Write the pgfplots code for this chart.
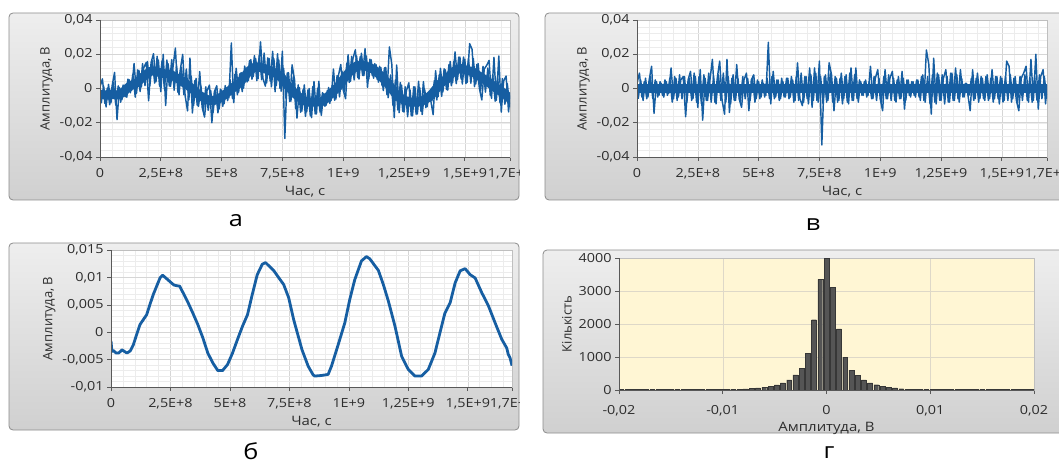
\documentclass[border=0pt]{standalone}
\usepackage{pgfplots}
\pgfplotsset{compat=1.18}
\usepackage{fontspec}
\setmainfont[FakeStretch=1.15]{Open Sans}
\newfontfamily\rotfont{Open Sans}
\definecolor{sig}{RGB}{22,94,162}
\definecolor{frametop}{RGB}{238,238,238}
\definecolor{framebot}{RGB}{208,208,208}
\definecolor{frameedge}{RGB}{140,140,140}
\definecolor{gmaj}{RGB}{214,214,214}
\definecolor{gmin}{RGB}{236,236,236}
\definecolor{histbg}{RGB}{255,246,212}
\definecolor{histbar}{RGB}{85,85,85}
\definecolor{histedge}{RGB}{55,55,55}
\definecolor{txt}{RGB}{45,45,45}
\newcommand\tfont{\fontsize{12.5}{13}\selectfont}
\newcommand\lfont{\fontsize{13}{14}\selectfont}
\pgfplotsset{
  panel/.style={
    scale only axis,
    axis background/.style={fill=white},
    tick align=outside, xtick pos=left, ytick pos=left,
    major tick length=4pt, minor tick length=0pt,
    tick style={draw=black!65, line width=0.6pt},
    axis line style={draw=black!25, line width=0.6pt},
    major grid style={draw=gmaj, line width=0.5pt},
    minor grid style={draw=gmin, line width=0.4pt},
    xticklabel style={font=\tfont, text=txt, yshift=-4pt},
    yticklabel style={font=\tfont, text=txt},
    xlabel style={font=\lfont, text=txt, at={(axis description cs:0.5,0)}, anchor=center, yshift=-35pt},
    ylabel style={font=\rotfont\lfont, text=txt},
    after end axis/.code={\draw[black!65, line width=0.7pt] (rel axis cs:0,1) -- (rel axis cs:0,0) -- (rel axis cs:1,0);},
  },
  timeaxis/.style={
    panel, grid=both,
    xmin=0, xmax=16.86,
    xtick={0,2.5,5,7.5,10,12.5,15,16.86},
    xticklabels={0,{2,5E+8},{5E+8},{7,5E+8},{1E+9},{1,25E+9},{1,5E+9},{1,7E+9}},
    minor xtick={0,0.5,...,16.5},
    xlabel={Час, с}, ylabel={Амплитуда, В},
  },
  ampaxis/.style={
    timeaxis, ymin=-40, ymax=40,
    ytick={-40,-20,0,20,40},
    yticklabels={{-0,04},{-0,02},0,{0,02},{0,04}},
    minor ytick={-40,-36,...,40},
    width=410pt, height=137pt,
  },
  noise/.style={sig, line width=1.45pt, line join=round},
}
\newcommand\panelframe[4]{\draw[rounded corners=4pt, draw=frameedge, line width=0.8pt, top color=frametop, bottom color=framebot] (#1pt,#2pt) rectangle (#3pt,#4pt);}
\begin{document}
\begin{tikzpicture}
\useasboundingbox (0pt,0pt) rectangle (1059pt,464pt);
\panelframe{9}{264}{519}{451}
\panelframe{545}{264}{1075}{451}
\panelframe{9}{34}{519}{221}
\panelframe{543}{31}{1075}{214}

% ---------- panel a ----------
\begin{scope}
\clip (9pt,264pt) rectangle (519pt,451pt);
\begin{axis}[ampaxis, at={(100pt,307pt)}, anchor=south west]
\addplot[sig, line width=9pt, line join=round] coordinates {
(0,-1.6)(0.02,-2.6)(0.04,-3.5)(0.11,-3.35)(0.16,-3.6)(0.22,-3.8)(0.32,-3.8)(0.40,-3.5)(0.46,-3.2)(0.56,-3.5)(0.67,-3.8)(0.75,-3.6)(0.81,-3.4)(0.94,-2.3)(1.08,-0.4)(1.22,1.4)(1.36,2.3)(1.50,3.2)(1.64,5.1)(1.78,6.9)(1.92,8.4)(2.06,9.9)(2.17,10.4)(2.33,9.8)(2.54,9.0)(2.65,8.6)(2.75,8.5)(2.89,8.4)(3.03,7.2)(3.24,5.4)(3.44,3.5)(3.65,1.4)(3.86,-1.0)(4.07,-3.8)(4.28,-5.6)(4.49,-7.0)(4.69,-7.0)(4.90,-5.9)(5.11,-3.8)(5.32,-1.3)(5.53,1.1)(5.74,3.2)(5.94,6.9)(6.15,10.5)(6.36,12.4)(6.50,12.7)(6.64,12.1)(6.85,11.2)(7.06,9.9)(7.26,8.7)(7.47,6.3)(7.68,2.3)(7.89,-1.0)(8.03,-3.2)(8.29,-6.2)(8.50,-7.8)(8.57,-8.0)(8.85,-7.9)(9.13,-7.7)(9.27,-6.2)(9.55,-2.3)(9.83,1.7)(10.04,6.0)(10.25,9.6)(10.53,13.0)(10.74,13.8)(10.88,13.4)(11.10,12.1)(11.24,11.3)(11.45,8.7)(11.66,5.7)(11.94,1.1)(12.22,-4.4)(12.50,-6.8)(12.78,-8.0)(13.06,-8.0)(13.34,-6.8)(13.62,-3.8)(13.83,-0.1)(14.04,3.5)(14.26,5.4)(14.47,9.0)(14.68,11.2)(14.89,11.6)(15.10,10.5)(15.31,9.9)(15.59,7.2)(15.87,4.8)(16.15,1.7)(16.43,-1.3)(16.64,-2.9)(16.70,-4.0)(16.78,-4.7)(16.86,-6.1)
};
\addplot[noise] coordinates {
(0.05,-8.7)(0.15,1.4)(0.25,-10.8)(0.35,2.4)(0.45,-8.4)(0.55,3.6)(0.65,-9.7)(0.75,1.5)(0.85,-8)(0.95,2)
(1.05,-4.8)(1.15,5.5)(1.25,-2.5)(1.35,8.3)(1.45,-5.1)(1.55,10.9)(1.65,-1.8)(1.75,14.5)(1.85,1.7)(1.95,15.8)
(2.05,1.7)(2.15,16.2)(2.25,3.1)(2.35,18.8)(2.45,1.4)(2.55,16.1)(2.65,-0.3)(2.75,16.6)(2.85,1.4)(2.95,16.9)
(3.05,-1)(3.15,13.2)(3.25,-3.7)(3.35,12.4)(3.45,-3.6)(3.55,11.4)(3.65,-6.7)(3.75,7.3)(3.85,-9.9)(3.95,5.9)
(4.05,-10.5)(4.15,1.5)(4.25,-13.3)(4.35,1)(4.45,-12.7)(4.55,-1)(4.65,-14)(4.75,-0.7)(4.85,-14.2)(4.95,-0.4)
(5.05,-10.4)(5.15,1.7)(5.25,-7.1)(5.35,5.1)(5.45,-5.9)(5.55,8.3)(5.65,-3.7)(5.75,8.6)(5.85,-1.8)(5.95,13.1)
(6.05,3.8)(6.15,16.3)(6.25,5.4)(6.35,19.2)(6.45,4.6)(6.55,19.5)(6.65,5.1)(6.75,20.7)(6.85,3.2)(6.95,17.6)
(7.05,1)(7.15,17.4)(7.25,1.7)(7.35,16.7)(7.45,-1.6)(7.55,11.8)(7.65,-6.1)(7.75,9.3)(7.85,-7.4)(7.95,6.9)
(8.05,-11.7)(8.15,2.1)(8.25,-13.9)(8.35,-0.6)(8.45,-16.3)(8.55,-0.8)(8.65,-16)(8.75,1.1)(8.85,-14.9)(8.95,0.2)
(9.05,-13.8)(9.15,-2.4)(9.25,-10.4)(9.35,-1.1)(9.45,-8.7)(9.55,1.7)(9.65,-6.9)(9.75,7.6)(9.85,-4.9)(9.95,10.1)
(10.05,-1.9)(10.15,14.9)(10.25,3.5)(10.35,18.8)(10.45,5)(10.55,19)(10.65,5.5)(10.75,20.6)(10.85,7.5)(10.95,19)
(11.05,5.4)(11.15,16.8)(11.25,6)(11.35,13.9)(11.45,3.7)(11.55,12.3)(11.65,-1.2)(11.75,12.3)(11.85,-5.4)(11.95,7.9)
(12.05,-10)(12.15,5)(12.25,-12.6)(12.35,3.5)(12.45,-13.4)(12.55,1)(12.65,-16.5)(12.75,-0.9)(12.85,-16)(12.95,1)
(13.05,-14.9)(13.15,0.4)(13.25,-15.2)(13.35,-0.6)(13.45,-10.7)(13.55,-1.6)(13.65,-7.2)(13.75,4.6)(13.85,-6.7)(13.95,8)
(14.05,-4.6)(14.15,11.5)(14.25,-0.6)(14.35,13.9)(14.45,1.6)(14.55,15.9)(14.65,2.8)(14.75,18.3)(14.85,5.5)(14.95,18.4)
(15.05,2.8)(15.15,17.4)(15.25,3.1)(15.35,17.5)(15.45,2.6)(15.55,14.6)(15.65,-1.3)(15.75,12.9)(15.85,-2.1)(15.95,12)
(16.05,-4.2)(16.15,7.7)(16.25,-7.4)(16.35,6.6)(16.45,-8.4)(16.55,5.8)(16.65,-9.2)(16.75,2.8)(16.85,-11)
};
\addplot[noise] coordinates {
(0,1)(0.1,5.6)(0.2,-8.7)(0.3,0.2)(0.4,-9.5)(0.5,1.7)(0.6,9.4)(0.7,-18.2)(0.8,0.6)(0.9,-6.6)
(1,1.5)(1.1,-5.1)(1.2,5.1)(1.3,-1.1)(1.4,14.6)(1.5,-2.8)(1.6,10.6)(1.7,0.9)(1.8,12.1)(1.9,15.2)
(2,-7.2)(2.1,15.1)(2.2,20.3)(2.3,3.9)(2.4,16.6)(2.5,-1.8)(2.6,19.9)(2.7,-9.9)(2.8,14.5)(2.9,1.3)
(3,12.4)(3.1,23.6)(3.2,-2.2)(3.3,10.8)(3.4,19.9)(3.5,-4.1)(3.6,-13.1)(3.7,17.8)(3.8,-14.3)(3.9,4.6)
(4,-9.9)(4.1,9.9)(4.2,-10.9)(4.3,-16.7)(4.4,-1.4)(4.5,2)(4.6,-20)(4.7,-2)(4.8,1.6)(4.9,-11.9)
(5,-0.9)(5.1,-8.9)(5.2,0.3)(5.3,-5.5)(5.4,26.6)(5.5,-8.3)(5.6,11.8)(5.7,-2.2)(5.8,9.3)(5.9,0.2)
(6,11.9)(6.1,4.6)(6.2,16.9)(6.3,6.9)(6.4,17.5)(6.5,5.7)(6.6,27.3)(6.7,5.9)(6.8,1.4)(6.9,17.9)
(7,4.3)(7.1,21.7)(7.2,-1.9)(7.3,20.3)(7.4,0.1)(7.5,21.8)(7.6,-29.2)(7.7,9.1)(7.8,-7.6)(7.9,13.8)
(8,5)(8.1,-17.3)(8.2,0.5)(8.3,-13.3)(8.4,2.1)(8.5,-13.6)(8.6,0)(8.7,-17)(8.8,4.1)(8.9,-14.9)
(9,4.2)(9.1,-15.7)(9.2,-3)(9.3,-9.8)(9.4,0.6)(9.5,-7)(9.6,11.4)(9.7,-6.2)(9.8,7.3)(9.9,14)
(10,-0.8)(10.1,-6)(10.2,19.7)(10.3,4.2)(10.4,17.4)(10.5,22.6)(10.6,6.3)(10.7,18.6)(10.8,7.6)(10.9,23.3)
(11,0.7)(11.1,17.1)(11.2,7.5)(11.3,14.5)(11.4,5.3)(11.5,13)(11.6,1.6)(11.7,12.1)(11.8,-3.6)(11.9,24.3)
(12,14)(12.1,-17)(12.2,13.7)(12.3,-14.1)(12.4,2)(12.5,-13.8)(12.6,-1.3)(12.7,3.3)(12.8,-16)(12.9,1)
(13,-15)(13.1,4.2)(13.2,-13.4)(13.3,4)(13.4,-11.2)(13.5,-2.1)(13.6,-7)(13.7,-15.3)(13.8,10.4)(13.9,-4.8)
(14,11.8)(14.1,-2)(14.2,10.9)(14.3,-1)(14.4,15.8)(14.5,3.3)(14.6,21.4)(14.7,5.2)(14.8,18.4)(14.9,2.6)
(15,17.1)(15.1,3.5)(15.2,26.2)(15.3,22.9)(15.4,1.1)(15.5,14.1)(15.6,0.1)(15.7,-6.7)(15.8,11.4)(15.9,13.5)
(16,16.4)(16.1,-5.8)(16.2,18.2)(16.3,-6.9)(16.4,19)(16.5,-13.8)(16.6,4.4)(16.7,7.3)(16.8,-13.7)(16.86,-4)
};
\end{axis}
\end{scope}

% ---------- panel v ----------
\begin{axis}[ampaxis, at={(637pt,307pt)}, anchor=south west]
\addplot[sig, line width=9pt] coordinates {(0,0)(16.86,0)};
\addplot[noise] coordinates {
(0.05,-6)(0.15,5)(0.25,-7)(0.35,6)(0.45,-5)(0.55,7)(0.65,-6)(0.75,5)(0.85,-5)(0.95,4)
(1.05,-4)(1.15,5)(1.25,-4)(1.35,6)(1.45,-8)(1.55,7)(1.65,-7)(1.75,8)(1.85,-6)(1.95,7)
(2.05,-8)(2.15,6)(2.25,-7)(2.35,9)(2.45,-8)(2.55,7)(2.65,-9)(2.75,8)(2.85,-7)(2.95,9)
(3.05,-8)(3.15,7)(3.25,-9)(3.35,8)(3.45,-7)(3.55,9)(3.65,-8)(3.75,7)(3.85,-9)(3.95,8)
(4.05,-7)(4.15,6)(4.25,-8)(4.35,7)(4.45,-6)(4.55,6)(4.65,-7)(4.75,6)(4.85,-8)(4.95,5)
(5.05,-6)(5.15,5)(5.25,-5)(5.35,6)(5.45,-6)(5.55,7)(5.65,-6)(5.75,5)(5.85,-7)(5.95,6)
(6.05,-5)(6.15,6)(6.25,-6)(6.35,7)(6.45,-8)(6.55,7)(6.65,-7)(6.75,9)(6.85,-8)(6.95,7)
(7.05,-9)(7.15,8)(7.25,-7)(7.35,9)(7.45,-8)(7.55,7)(7.65,-9)(7.75,8)(7.85,-7)(7.95,9)
(8.05,-8)(8.15,7)(8.25,-8)(8.35,6)(8.45,-9)(8.55,7)(8.65,-8)(8.75,9)(8.85,-7)(8.95,8)
(9.05,-6)(9.15,5)(9.25,-4)(9.35,4)(9.45,-5)(9.55,4)(9.65,-6)(9.75,7)(9.85,-7)(9.95,6)
(10.05,-8)(10.15,7)(10.25,-6)(10.35,8)(10.45,-7)(10.55,6)(10.65,-8)(10.75,7)(10.85,-6)(10.95,6)
(11.05,-7)(11.15,5)(11.25,-5)(11.35,4)(11.45,-5)(11.55,5)(11.65,-7)(11.75,8)(11.85,-8)(11.95,7)
(12.05,-9)(12.15,8)(12.25,-8)(12.35,9)(12.45,-7)(12.55,8)(12.65,-9)(12.75,7)(12.85,-8)(12.95,9)
(13.05,-7)(13.15,8)(13.25,-8)(13.35,6)(13.45,-5)(13.55,3)(13.65,-4)(13.75,6)(13.85,-7)(13.95,6)
(14.05,-8)(14.15,7)(14.25,-6)(14.35,7)(14.45,-7)(14.55,6)(14.65,-8)(14.75,7)(14.85,-6)(14.95,7)
(15.05,-8)(15.15,7)(15.25,-7)(15.35,8)(15.45,-6)(15.55,7)(15.65,-8)(15.75,7)(15.85,-7)(15.95,8)
(16.05,-7)(16.15,6)(16.25,-8)(16.35,7)(16.45,-7)(16.55,8)(16.65,-6)(16.75,7)(16.85,-6)
};
\addplot[noise] coordinates {
(0,3)(0.1,9)(0.2,-5)(0.3,4)(0.4,-6)(0.5,5)(0.6,13)(0.7,-14.5)(0.8,4)(0.9,-4)
(1,3)(1.1,-5)(1.2,4)(1.3,-3)(1.4,12)(1.5,-6)(1.6,6)(1.7,-5)(1.8,5)(1.9,7)
(2,-16.5)(2.1,5)(2.2,10)(2.3,-6)(2.4,7)(2.5,-11)(2.6,11)(2.7,-18.5)(2.8,6)(2.9,-7)
(3,5)(3.1,17)(3.2,-8)(3.3,6)(3.4,16)(3.5,-7)(3.6,-15)(3.7,17)(3.8,-14)(3.9,6)
(4,-7)(4.1,14)(4.2,-6)(4.3,-11)(4.4,5)(4.5,9)(4.6,-13)(4.7,5)(4.8,8)(4.9,-6)
(5,4)(5.1,-5)(5.2,3)(5.3,-4)(5.4,27)(5.5,-9)(5.6,10)(5.7,-5)(5.8,5)(5.9,-6)
(6,4)(6.1,-5)(6.2,6)(6.3,-5)(6.4,5)(6.5,-7)(6.6,15)(6.7,-6)(6.8,-10)(6.9,7)
(7,-6)(7.1,12)(7.2,-11)(7.3,12)(7.4,-7)(7.5,16)(7.6,-33)(7.7,7)(7.8,-8)(7.9,15)
(8,8)(8.1,-13)(8.2,6)(8.3,-7)(8.4,9)(8.5,-6)(8.6,8)(8.7,-9)(8.8,12)(8.9,-7)
(9,12)(9.1,-8)(9.2,4)(9.3,-4)(9.4,5)(9.5,-4)(9.6,13)(9.7,-6)(9.8,6)(9.9,11)
(10,-6)(10.1,-13)(10.2,11)(10.3,-6)(10.4,6)(10.5,10)(10.6,-7)(10.7,5)(10.8,-6)(10.9,10)
(11,-12)(11.1,5)(11.2,-4)(11.3,4)(11.4,-4)(11.5,5)(11.6,-5)(11.7,7)(11.8,-7)(11.9,22.5)
(12,14)(12.1,-15)(12.2,17.7)(12.3,-9)(12.4,8)(12.5,-7)(12.6,6)(12.7,11)(12.8,-8)(12.9,9)
(13,-7)(13.1,12)(13.2,-6)(13.3,11)(13.4,-5)(13.5,3)(13.6,-3)(13.7,-13)(13.8,11)(13.9,-6)
(14,9)(14.1,-6)(14.2,6)(14.3,-7)(14.4,8)(14.5,-6)(14.6,11)(14.7,-6)(14.8,7)(14.9,-9)
(15,6)(15.1,-7)(15.2,16)(15.3,13)(15.4,-8)(15.5,6)(15.6,-7)(15.7,-13)(15.8,6)(15.9,9)
(16,13)(16.1,-8)(16.2,17)(16.3,-7)(16.4,20)(16.5,-12)(16.6,7)(16.7,11)(16.8,-9)(16.86,2)
};
\end{axis}

% ---------- panel b ----------
\begin{scope}
\clip (9pt,34pt) rectangle (519pt,221pt);
\begin{axis}[timeaxis, at={(111pt,77pt)}, anchor=south west, width=401pt, height=137pt,
  ymin=-10, ymax=15, ytick={-10,-5,0,5,10,15},
  yticklabels={{-0,01},{-0,005},0,{0,005},{0,01},{0,015}},
  minor ytick={-10,-9,...,15}]
\addplot[sig, line width=2.8pt, line join=round] coordinates {
(0,-1.6)(0.02,-2.6)(0.04,-3.5)(0.11,-3.35)(0.16,-3.6)(0.22,-3.8)(0.32,-3.8)(0.40,-3.5)(0.46,-3.2)(0.56,-3.5)(0.67,-3.8)(0.75,-3.6)(0.81,-3.4)(0.94,-2.3)(1.08,-0.4)(1.22,1.4)(1.36,2.3)(1.50,3.2)(1.64,5.1)(1.78,6.9)(1.92,8.4)(2.06,9.9)(2.17,10.4)(2.33,9.8)(2.54,9.0)(2.65,8.6)(2.75,8.5)(2.89,8.4)(3.03,7.2)(3.24,5.4)(3.44,3.5)(3.65,1.4)(3.86,-1.0)(4.07,-3.8)(4.28,-5.6)(4.49,-7.0)(4.69,-7.0)(4.90,-5.9)(5.11,-3.8)(5.32,-1.3)(5.53,1.1)(5.74,3.2)(5.94,6.9)(6.15,10.5)(6.36,12.4)(6.50,12.7)(6.64,12.1)(6.85,11.2)(7.06,9.9)(7.26,8.7)(7.47,6.3)(7.68,2.3)(7.89,-1.0)(8.03,-3.2)(8.29,-6.2)(8.50,-7.8)(8.57,-8.0)(8.85,-7.9)(9.13,-7.7)(9.27,-6.2)(9.55,-2.3)(9.83,1.7)(10.04,6.0)(10.25,9.6)(10.53,13.0)(10.74,13.8)(10.88,13.4)(11.10,12.1)(11.24,11.3)(11.45,8.7)(11.66,5.7)(11.94,1.1)(12.22,-4.4)(12.50,-6.8)(12.78,-8.0)(13.06,-8.0)(13.34,-6.8)(13.62,-3.8)(13.83,-0.1)(14.04,3.5)(14.26,5.4)(14.47,9.0)(14.68,11.2)(14.89,11.6)(15.10,10.5)(15.31,9.9)(15.59,7.2)(15.87,4.8)(16.15,1.7)(16.43,-1.3)(16.64,-2.9)(16.70,-4.0)(16.78,-4.7)(16.86,-6.1)
};
\end{axis}
\end{scope}

% ---------- panel g ----------
\begin{axis}[panel, at={(619pt,74pt)}, anchor=south west, width=415pt, height=132pt,
  axis background/.style={fill=histbg},
  major grid style={draw={rgb,255:red,222;green,216;blue,200}, line width=0.5pt},
  grid=major,
  xticklabel style={yshift=-4pt},
  xlabel style={yshift=-3pt},
  xmin=-20, xmax=20, ymin=0, ymax=4000,
  xtick={-20,-10,0,10,20}, xticklabels={{-0,02},{-0,01},0,{0,01},{0,02}},
  ytick={0,1000,2000,3000,4000},
  yticklabels={0,1000,2000,3000,4000},
  xlabel={Амплитуда, В}, ylabel={Кількість}]
\addplot[ybar, bar width=0.47, fill=histbar, draw=histedge, line width=0.3pt] coordinates {
(-19.8,20)(-19.2,20)(-18.6,20)(-18,20)(-17.4,20)(-16.8,20)(-16.2,20)(-15.6,20)(-15,20)(-14.4,20)(-13.8,20)(-13.2,20)(-12.6,20)(-12,20)(-11.4,20)(-10.8,20)
(-10.2,22)(-9.6,25)(-9,28)(-8.4,30)(-7.8,35)(-7.2,45)(-6.6,62)(-6,90)(-5.4,115)(-4.8,155)(-4.2,215)(-3.6,305)(-3,455)(-2.4,660)(-1.8,1120)(-1.2,2130)(-0.6,3350)
(0,3990)
(0.6,3120)(1.2,1850)(1.8,985)(2.4,600)(3,450)(3.6,305)(4.2,215)(4.8,160)(5.4,112)(6,82)(6.6,62)(7.2,40)(7.8,30)(8.4,25)(9,20)
(9.6,20)(10.2,20)(10.8,20)(11.4,20)(12,20)(12.6,20)(13.2,20)(13.8,20)(14.4,20)(15,20)(15.6,20)(16.2,20)(16.8,20)(17.4,20)(18,20)(18.6,20)(19.2,20)(19.8,20)
};
\end{axis}

% ---------- panel letters ----------
\node[anchor=base, font=\fontsize{22}{24}\selectfont, text=black] at (236pt,237pt) {а};
\node[anchor=base, font=\fontsize{22}{24}\selectfont, text=black] at (813pt,234pt) {в};
\node[anchor=base, font=\fontsize{22}{24}\selectfont, text=black] at (251pt,5pt) {б};
\node[anchor=base, font=\fontsize{22}{24}\selectfont, text=black] at (829pt,6pt) {г};
\end{tikzpicture}
\end{document}
